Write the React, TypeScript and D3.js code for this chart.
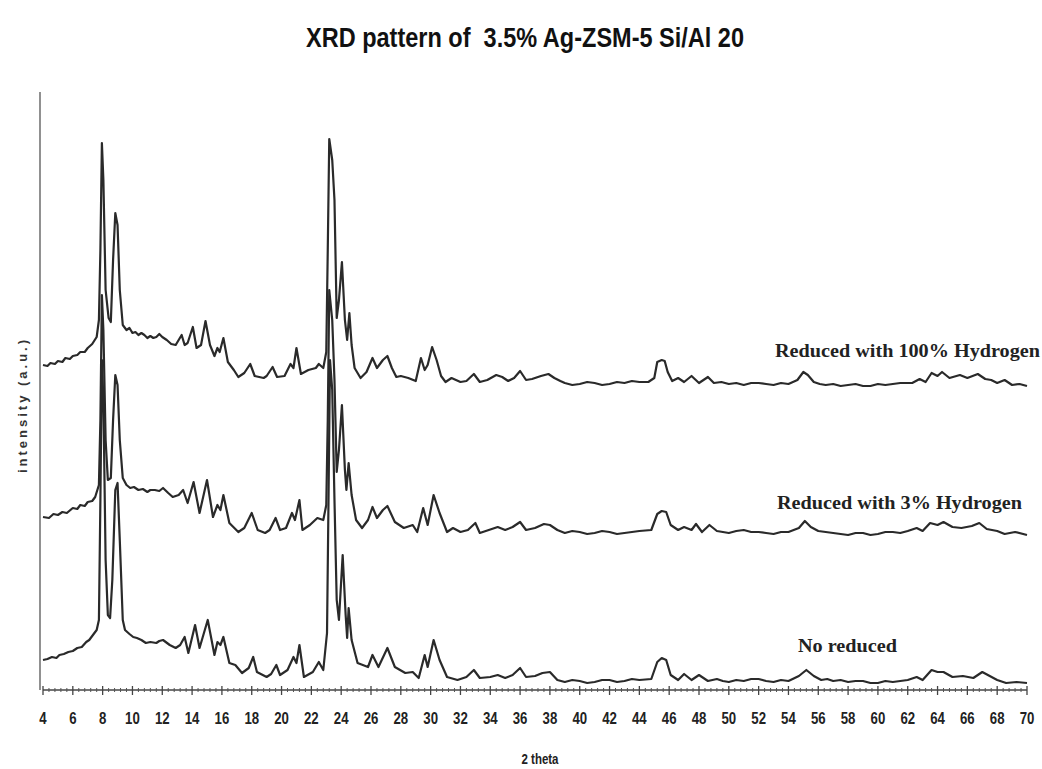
import React from "react";
import * as d3 from "d3";

const chartTitle = "XRD pattern of  3.5% Ag-ZSM-5 Si/Al 20";
const xLabel = "2 theta";
const yLabel = "intensity (a.u.)";
const xTickValues = d3.range(4, 71, 2);
const seriesNames = ["Reduced with 100% Hydrogen", "Reduced with 3% Hydrogen", "No reduced"];

// [2theta, intensity a.u.] (curves stacked with their offsets)
const series100: [number, number][] = [
  [4.0, 325], [4.3, 324], [4.5, 327], [4.8, 326], [5.0, 329], [5.3, 328], [5.5, 332], [5.8, 331], [6.0, 334], [6.3, 335], [6.5, 338], [6.8, 338], [7.0, 342], [7.3, 346], [7.6, 353],
  [7.75, 370], [7.85, 440], [7.95, 547], [8.05, 510], [8.2, 400], [8.4, 372], [8.55, 368], [8.7, 430], [8.85, 477],
  [9.0, 465], [9.15, 400], [9.35, 365], [9.6, 360], [9.8, 362], [10.0, 357], [10.2, 358], [10.4, 355], [10.6, 357], [10.8, 355], [11.0, 352], [11.2, 354], [11.4, 352], [11.6, 353],
  [11.8, 356], [12.0, 353], [12.3, 350], [12.6, 346], [12.9, 345], [13.3, 355], [13.5, 345], [13.7, 347], [14.05, 363], [14.3, 342],
  [14.6, 345], [14.9, 369], [15.2, 345], [15.5, 334], [15.7, 342], [15.85, 338], [16.1, 352], [16.4, 328], [16.8, 320],
  [17.1, 313], [17.5, 317], [17.9, 326], [18.2, 314], [18.8, 312], [19.0, 314], [19.4, 323], [19.7, 313], [20.2, 314],
  [20.6, 326], [20.8, 322], [21.0, 342], [21.3, 316], [21.8, 320], [22.3, 322], [22.5, 326], [22.8, 322], [23.0, 338],
  [23.1, 440], [23.2, 551], [23.4, 530], [23.55, 490], [23.7, 372], [23.85, 390], [24.05, 428], [24.25, 370],
  [24.4, 350], [24.55, 377], [24.7, 345], [24.9, 322], [25.3, 312], [25.7, 318], [26.1, 332], [26.4, 322], [26.8, 330],
  [27.1, 334], [27.4, 322], [27.7, 313], [28.0, 314], [28.5, 312], [29.0, 309], [29.35, 332], [29.6, 320], [29.8, 325],
  [30.1, 343], [30.4, 330], [30.7, 314], [31.0, 308], [31.4, 312], [32.0, 308], [32.4, 309], [32.9, 316], [33.3, 308],
  [33.8, 310], [34.4, 315], [34.8, 313], [35.2, 309], [35.6, 312], [36.0, 319], [36.4, 310], [36.8, 311], [37.4, 314],
  [37.9, 316], [38.3, 312], [38.7, 309], [39.0, 307], [39.5, 305], [40.0, 306], [40.5, 308], [41.0, 307], [41.5, 305], [42.0, 306], [42.5, 308], [43.0, 307], [43.5, 309], [44.0, 308],
  [44.6, 308], [45.0, 312], [45.2, 328], [45.5, 330], [45.7, 329], [45.9, 318], [46.2, 309], [46.6, 312], [47.0, 308],
  [47.5, 314], [48.0, 307], [48.6, 313], [49.0, 307], [49.5, 308], [50.0, 306], [50.5, 307], [51.0, 305], [51.5, 307], [52.0, 307], [52.5, 306], [53.0, 305], [53.5, 307], [54.0, 306],
  [54.6, 310], [55.0, 318], [55.3, 315], [55.7, 308], [56.1, 306], [56.5, 305], [57.0, 306], [57.5, 304], [58.0, 305], [58.5, 306], [59.0, 304], [59.5, 304], [60.0, 306], [60.5, 305],
  [61.0, 306], [61.5, 307], [62.3, 307], [62.8, 311], [63.2, 308], [63.6, 317], [64.0, 314], [64.3, 318], [64.8, 312], [65.5, 315],
  [66.0, 312], [66.7, 316], [67.2, 311], [67.6, 310], [68.0, 307], [68.5, 310], [69.0, 305], [69.5, 306], [70.0, 304],
];

const series3: [number, number][] = [
  [4.0, 173], [4.4, 172], [4.7, 176], [5.0, 175], [5.3, 178], [5.6, 177], [6.0, 182], [6.3, 181], [6.5, 185], [6.8, 184], [7.0, 188], [7.3, 189], [7.5, 193], [7.75, 205], [7.85, 270],
  [7.95, 395], [8.05, 360], [8.2, 250], [8.35, 210], [8.55, 212], [8.7, 270], [8.85, 315], [9.0, 305], [9.15, 250],
  [9.35, 212], [9.6, 205], [9.85, 202], [10.1, 203], [10.4, 200], [10.7, 201], [11.0, 198], [11.2, 200], [11.5, 200], [11.8, 199], [12.05, 202], [12.4, 197], [12.7, 193],
  [13.1, 195], [13.4, 200], [13.7, 187], [14.1, 208], [14.5, 177], [15.0, 210], [15.4, 173], [15.7, 185], [15.9, 180],
  [16.1, 195], [16.5, 167], [17.1, 158], [17.5, 162], [18.0, 177], [18.4, 160], [18.9, 157], [19.2, 160], [19.6, 172],
  [19.9, 160], [20.3, 162], [20.7, 177], [20.9, 170], [21.2, 190], [21.4, 160], [21.9, 165], [22.4, 172], [22.8, 170],
  [23.0, 185], [23.1, 270], [23.2, 400], [23.4, 370], [23.55, 310], [23.7, 218], [23.85, 240], [24.05, 285],
  [24.25, 220], [24.35, 200], [24.5, 227], [24.7, 195], [25.0, 170], [25.4, 162], [25.8, 170], [26.1, 183], [26.4, 172],
  [26.8, 180], [27.1, 184], [27.6, 168], [28.2, 162], [28.8, 165], [29.1, 158], [29.5, 182], [29.8, 165], [30.2, 195],
  [30.6, 177], [31.1, 158], [31.5, 162], [32.0, 158], [32.5, 160], [33.0, 167], [33.3, 157], [33.9, 160], [34.5, 163],
  [35.0, 160], [35.5, 163], [36.0, 168], [36.4, 160], [37.0, 162], [37.6, 166], [38.0, 165], [38.5, 160], [39.0, 157],
  [39.5, 159], [40.0, 158], [40.5, 156], [41.0, 157], [41.5, 159], [42.0, 158], [42.5, 156], [43.0, 157], [43.5, 158], [44.0, 159], [44.8, 160], [45.2, 176], [45.5, 179], [45.8, 178],
  [46.1, 165], [46.6, 160], [47.0, 163], [47.5, 160], [47.8, 166], [48.2, 158], [48.7, 165], [49.2, 159], [49.6, 158], [50.0, 157],
  [50.5, 159], [51.0, 160], [51.5, 158], [52.0, 158], [52.5, 157], [53.0, 156], [53.5, 158], [54.0, 158], [54.7, 162], [55.1, 169], [55.5, 163], [56.0, 159], [56.5, 158], [57.0, 157],
  [57.5, 156], [58.0, 155], [58.5, 157], [59.0, 157], [59.5, 155], [60.0, 156], [60.5, 158], [61.0, 158], [61.5, 157], [62.0, 159], [62.6, 162], [63.0, 159], [63.5, 167], [64.0, 165],
  [64.4, 168], [65.0, 163], [65.6, 162], [66.3, 164], [66.8, 167], [67.3, 161], [68.0, 159], [68.5, 156], [69.2, 158],
  [70.0, 155],
];

const seriesNone: [number, number][] = [
  [4.0, 30], [4.3, 31], [4.6, 33], [4.9, 32], [5.1, 35], [5.4, 36], [5.7, 38], [6.0, 39], [6.3, 42], [6.6, 43], [6.9, 48], [7.1, 50], [7.35, 55], [7.6, 60], [7.75, 70], [7.85, 190],
  [7.95, 330], [8.05, 290], [8.2, 130], [8.35, 75], [8.5, 72], [8.65, 110], [8.85, 200], [9.0, 207], [9.15, 150],
  [9.35, 70], [9.5, 60], [9.8, 56], [10.05, 53], [10.3, 52], [10.6, 50], [10.9, 47], [11.2, 48], [11.6, 47], [11.8, 49], [12.05, 50], [12.5, 45], [12.9, 42],
  [13.2, 45], [13.5, 53], [13.75, 37], [14.2, 65], [14.5, 42], [15.05, 70], [15.5, 35], [15.7, 48], [15.9, 45],
  [16.1, 53], [16.5, 27], [16.9, 25], [17.35, 17], [17.8, 22], [18.1, 33], [18.35, 18], [19.0, 13], [19.3, 16],
  [19.65, 25], [19.9, 15], [20.4, 20], [20.8, 33], [21.0, 27], [21.2, 45], [21.5, 13], [22.1, 18], [22.5, 28],
  [22.8, 20], [23.05, 57], [23.15, 190], [23.25, 330], [23.4, 300], [23.55, 190], [23.7, 90], [23.85, 70],
  [24.1, 135], [24.3, 75], [24.4, 52], [24.5, 82], [24.7, 50], [25.1, 27], [25.8, 23], [26.1, 35], [26.5, 23],
  [27.1, 42], [27.6, 23], [28.3, 17], [28.8, 18], [29.2, 12], [29.6, 35], [29.8, 23], [30.2, 50], [30.6, 30],
  [31.1, 13], [31.8, 10], [32.4, 13], [32.9, 20], [33.3, 12], [34.0, 13], [34.5, 15], [35.0, 12], [35.5, 15],
  [36.0, 22], [36.4, 13], [37.0, 14], [37.5, 17], [38.0, 18], [38.5, 10], [39.0, 8], [39.5, 10], [40.0, 9], [40.5, 7], [41.0, 8], [41.5, 10], [42.0, 10],
  [42.5, 8], [43.0, 9], [43.5, 11], [44.0, 10], [44.8, 11], [45.2, 28], [45.5, 32], [45.8, 30], [46.1, 15], [46.6, 10], [47.0, 16],
  [47.5, 10], [48.0, 15], [48.6, 9], [49.2, 11], [49.6, 9], [50.0, 8], [50.5, 10], [51.0, 9], [51.5, 11], [52.0, 11], [52.5, 9], [53.0, 8], [53.5, 10], [54.0, 9], [54.7, 14],
  [55.2, 20], [55.7, 14], [56.2, 10], [56.6, 11], [57.0, 9], [57.5, 10], [58.0, 8], [58.5, 9], [59.0, 9], [59.5, 7], [60.0, 7], [60.5, 9], [61.0, 8], [61.5, 9], [62.0, 10], [62.6, 13],
  [63.0, 10], [63.6, 20], [64.0, 18], [64.4, 18], [65.0, 13], [65.7, 14], [66.4, 12], [67.0, 18], [67.5, 14],
  [68.0, 10], [68.6, 7], [69.3, 8], [70.0, 7],
];

export default function App() {
  const W = 1042;
  const H = 769;
  const x = d3.scaleLinear().domain([4, 70]).range([43, 1027]);
  const y = d3.scaleLinear().domain([0, 600]).range([690, 90]);
  const line = d3
    .line<[number, number]>()
    .x((d) => x(d[0]))
    .y((d) => y(d[1]))
    .curve(d3.curveLinear);
  const minor = d3.range(4, 70.001, 0.4).filter((v) => Math.abs(v / 2 - Math.round(v / 2)) > 0.01);
  const axisY = 690;
  const ink = "#2a2a2a";
  const sans = "'Liberation Sans', Arial, sans-serif";
  const serif = "'Liberation Serif', 'Times New Roman', serif";
  const allSeries = [series100, series3, seriesNone];
  const labelPos = [
    { x: 775, y: 357, len: 265 },
    { x: 777, y: 509, len: 245 },
    { x: 798, y: 652, len: 99 },
  ];

  return (
    <svg
      width={W}
      height={H}
      viewBox={`0 0 ${W} ${H}`}
      style={{ position: "absolute", left: 0, top: 0, background: "#fff" }}
    >
      <rect x={0} y={0} width={W} height={H} fill="#fff" />
      <text
        transform="translate(525,47) scale(0.84,1)"
        textAnchor="middle"
        fontFamily={sans}
        fontWeight="bold"
        fontSize={28}
        fill="#111"
        style={{ whiteSpace: "pre" }}
      >
        {chartTitle}
      </text>
      {/* y axis */}
      <line x1={40} x2={40} y1={92} y2={axisY} stroke="#555" strokeWidth={1.3} />
      {/* x axis */}
      <line x1={x(4)} x2={x(70)} y1={axisY} y2={axisY} stroke="#444" strokeWidth={1.3} />
      {minor.map((v, i) => (
        <line key={"m" + i} x1={x(v)} x2={x(v)} y1={axisY - 2} y2={axisY + 2} stroke="#555" strokeWidth={1} />
      ))}
      {xTickValues.map((v) => (
        <g key={v}>
          <line x1={x(v)} x2={x(v)} y1={axisY - 4} y2={axisY + 5} stroke="#444" strokeWidth={1.3} />
          <text
            transform={`translate(${x(v)},724) scale(0.8,1)`}
            textAnchor="middle"
            fontFamily={sans}
            fontWeight="bold"
            fontSize={16.5}
            fill="#222"
          >
            {v}
          </text>
        </g>
      ))}
      <text
        transform="translate(540,764) scale(0.82,1)"
        textAnchor="middle"
        fontFamily={sans}
        fontWeight="bold"
        fontSize={14}
        fill="#222"
      >
        {xLabel}
      </text>
      <text
        transform="translate(27,405) rotate(-90)"
        textAnchor="middle"
        fontFamily={sans}
        fontWeight="bold"
        fontSize={13}
        letterSpacing={3}
        fill="#333"
      >
        {yLabel}
      </text>
      {allSeries.map((s, i) => (
        <path key={i} d={line(s) || ""} fill="none" stroke={ink} strokeWidth={2.2} strokeLinejoin="round" />
      ))}
      {seriesNames.map((n, i) => (
        <text
          key={n}
          x={labelPos[i].x}
          y={labelPos[i].y}
          textLength={labelPos[i].len}
          lengthAdjust="spacingAndGlyphs"
          fontFamily={serif}
          fontWeight="bold"
          fontSize={19}
          fill="#222"
        >
          {n}
        </text>
      ))}
    </svg>
  );
}
